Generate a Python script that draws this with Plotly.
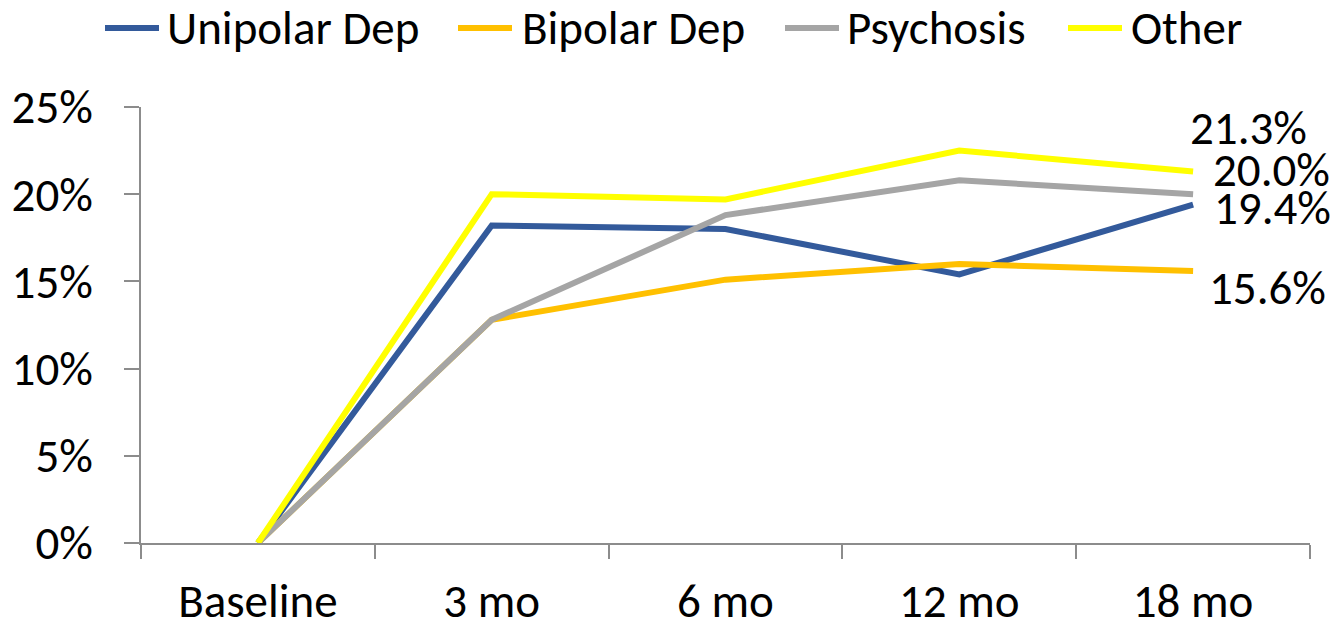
import plotly.graph_objects as go

# Follow-up time points
timepoints = ["Baseline", "3 mo", "6 mo", "12 mo", "18 mo"]

# Percentage of patients at each time point, by diagnosis group
unipolar_dep = [0.0, 18.2, 18.0, 15.4, 19.4]
bipolar_dep = [0.0, 12.8, 15.1, 16.0, 15.6]
psychosis = [0.0, 12.8, 18.8, 20.8, 20.0]
other = [0.0, 20.0, 19.7, 22.5, 21.3]

series_names = ["Unipolar Dep", "Bipolar Dep", "Psychosis", "Other"]
series_values = [unipolar_dep, bipolar_dep, psychosis, other]
series_colors = ["#335A9B", "#FFC000", "#A5A5A5", "#FFFF00"]

# Offsets (px) of the end-point value labels relative to the last point
label_offsets = {
    "Unipolar Dep": (79, -3),
    "Bipolar Dep": (74, -17),
    "Psychosis": (78, 24),
    "Other": (55, 44),
}

# Legend key placement across the top (pixel x of swatch start / text start)
legend_swatch_x = [105, 458, 785, 1068]
legend_text_x = [165, 520, 845, 1129]
LEGEND_Y_PX = 28

W, H = 1339, 624
M_L, M_R, M_T, M_B = 141, 29, 107, 81
PLOT_W = W - M_L - M_R
PLOT_H = H - M_T - M_B

FONT = "Calibri, Carlito, Lato, sans-serif"
FSIZE = 47
AXIS_GREY = "#8C8C8C"
LINE_W = 6


def px_to_paper_x(px):
    return (px - M_L) / PLOT_W


def px_to_paper_y(py):
    return (H - M_B - py) / PLOT_H


fig = go.Figure()
for name, vals, color in zip(series_names, series_values, series_colors):
    fig.add_trace(go.Scatter(
        x=timepoints, y=vals, name=name, mode="lines",
        line=dict(color=color, width=LINE_W),
        hoverinfo="skip", showlegend=False,
    ))
    dx, dy = label_offsets[name]
    fig.add_annotation(
        x=timepoints[-1], y=vals[-1], xref="x", yref="y",
        text=f"{vals[-1]:.1f}%", showarrow=False,
        xanchor="center", yanchor="middle",
        xshift=dx, yshift=dy,
        font=dict(family=FONT, size=FSIZE, color="black"),
    )

# Legend drawn as swatch lines plus labels along the top edge
ly = px_to_paper_y(LEGEND_Y_PX)
for name, color, sx, tx in zip(series_names, series_colors, legend_swatch_x, legend_text_x):
    fig.add_shape(
        type="line", xref="paper", yref="paper",
        x0=px_to_paper_x(sx), x1=px_to_paper_x(sx + 54), y0=ly, y1=ly,
        line=dict(color=color, width=LINE_W),
    )
    fig.add_annotation(
        x=px_to_paper_x(tx), y=ly, xref="paper", yref="paper",
        text=name, showarrow=False, xanchor="left", yanchor="middle",
        font=dict(family=FONT, size=FSIZE, color="black"),
    )

fig.update_layout(
    width=W, height=H,
    margin=dict(l=M_L, r=M_R, t=M_T, b=M_B, autoexpand=False),
    paper_bgcolor="white", plot_bgcolor="white",
    font=dict(family=FONT, size=FSIZE, color="black"),
    showlegend=False,
    xaxis=dict(
        type="category", range=[-0.5, 4.5],
        showline=True, linecolor=AXIS_GREY, linewidth=1.5,
        ticks="outside", tickson="boundaries", ticklen=14,
        tickcolor=AXIS_GREY, tickwidth=1.5,
        ticklabelstandoff=16,
        showgrid=False, zeroline=False,
        tickfont=dict(family=FONT, size=FSIZE, color="black"),
    ),
    yaxis=dict(
        range=[0, 25], tickvals=[0, 5, 10, 15, 20, 25],
        ticktext=["0%", "5%", "10%", "15%", "20%", "25%"],
        showline=True, linecolor=AXIS_GREY, linewidth=1.5,
        ticks="outside", ticklen=15, tickcolor=AXIS_GREY, tickwidth=1.5,
        ticklabelstandoff=22,
        showgrid=False, zeroline=False,
        tickfont=dict(family=FONT, size=FSIZE, color="black"),
    ),
)

fig.write_html("out.html")
